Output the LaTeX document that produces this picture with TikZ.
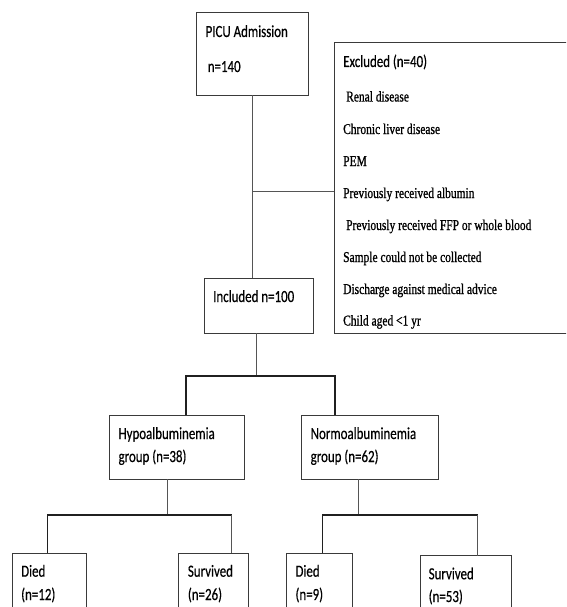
\documentclass[tikz,border=0pt]{standalone}
\usepackage{fontspec}
\newfontfamily\boxfont{Carlito}[FakeStretch=0.76,FakeBold=0.4]
\newfontfamily\listfont{Liberation Serif}[FakeStretch=0.765,FakeBold=0.9]
\definecolor{boxline}{HTML}{3A3A3A}
\definecolor{thinline}{HTML}{555555}
\definecolor{barline}{HTML}{202020}
\definecolor{txt}{HTML}{000000}
\tikzset{
  flowbox/.style={draw=boxline, line width=0.9pt, inner sep=0pt, outer sep=0pt, anchor=north west},
  boxtext/.style={anchor=base west, inner sep=0pt, text=txt, font=\boxfont\fontsize{17}{20}\selectfont},
  listtext/.style={anchor=base west, inner sep=0pt, text=txt, font=\listfont\fontsize{15}{17}\selectfont},
  thinlink/.style={draw=thinline, line width=0.8pt},
  barlink/.style={draw=barline, line width=1.7pt},
  midlink/.style={draw=barline, line width=1.2pt},
}
\begin{document}
\begin{tikzpicture}[x=1pt,y=-1pt]
\useasboundingbox (0,0) rectangle (566,607);
\clip (0,0) rectangle (566,607);
\fill[white] (0,0) rectangle (566,607);

% boxes
\node[flowbox, minimum width=112.3pt, minimum height=82.6pt] (picu) at (196.4,12.7) {};
\node[flowbox, minimum width=250pt, minimum height=290.3pt] (excl) at (334,42.7) {};
\node[flowbox, minimum width=108.7pt, minimum height=55pt] (incl) at (204.7,278) {};
\node[flowbox, minimum width=135.4pt, minimum height=64pt] (hypo) at (109.4,415.3) {};
\node[flowbox, minimum width=137.2pt, minimum height=64pt] (normo) at (301.4,415.3) {};
\node[flowbox, minimum width=74.3pt, minimum height=80pt] (d1) at (12.3,553.3) {};
\node[flowbox, minimum width=69.7pt, minimum height=80pt] (s1) at (178.7,553.3) {};
\node[flowbox, minimum width=66pt, minimum height=80pt] (d2) at (286.3,553.3) {};
\node[flowbox, minimum width=90.6pt, minimum height=80pt] (s2) at (420.6,555.7) {};

% box texts
\node[boxtext] (tpicu1) at (205.4,37) {PICU Admission};
\node[boxtext] (tpicu2) at (207.6,72) {n=140};
\node[boxtext] (tincl) at (213,302) {Included n=100};
\node[boxtext] (thypo1) at (118.4,439) {Hypoalbuminemia};
\node[boxtext] (thypo2) at (118.4,462) {group (n=38)};
\node[boxtext] (tnormo1) at (310.5,439) {Normoalbuminemia};
\node[boxtext] (tnormo2) at (310.5,462) {group (n=62)};
\node[boxtext] (td11) at (21,576.7) {Died};
\node[boxtext] (td12) at (21,600) {(n=12)};
\node[boxtext] (ts11) at (187.7,576.7) {Survived};
\node[boxtext] (ts12) at (187.7,600) {(n=26)};
\node[boxtext] (td21) at (295.3,576.7) {Died};
\node[boxtext] (td22) at (295.3,600) {(n=9)};
\node[boxtext] (ts21) at (428.5,579.3) {Survived};
\node[boxtext] (ts22) at (428.5,602) {(n=53)};

% excluded list
\node[boxtext] (tex0) at (343,67) {Excluded (n=40)};
\node[listtext] (tex1) at (346,101.5) {Renal disease};
\node[listtext] (tex2) at (343,134) {Chronic liver disease};
\node[listtext] (tex3) at (343,166) {PEM};
\node[listtext] (tex4) at (343,198) {Previously received albumin};
\node[listtext] (tex5) at (346,230) {Previously received FFP or whole blood};
\node[listtext] (tex6) at (343,262) {Sample could not be collected};
\node[listtext] (tex7) at (343,294) {Discharge against medical advice};
\node[listtext] (tex8) at (343,325.5) {Child aged <1 yr};

% junction coordinates
\coordinate (j1) at (252,191);
\coordinate (j2) at (256.3,376);
\coordinate (j2l) at (186.3,376);
\coordinate (j2r) at (334.7,376);
\coordinate (j3) at (167,515);
\coordinate (j3l) at (47.3,515);
\coordinate (j3r) at (231.8,515);
\coordinate (j4) at (358,515);
\coordinate (j4l) at (322.4,515);
\coordinate (j4r) at (477.6,515);

% connectors
\draw[thinlink] (picu.south -| j1) -- (incl.north -| j1);
\draw[thinlink] (j1) -- (excl.west |- j1);
\draw[thinlink] (incl.south -| j2) -- (j2);
\draw[barlink] (hypo.north -| j2l) -- (j2l) -- (j2r) -- (normo.north -| j2r);
\draw[thinlink] (hypo.south -| j3) -- (j3);
\draw[barlink] (j3l) -- (j3r);
\draw[midlink] (j3l) -- (d1.north -| j3l);
\draw[thinlink] (j3r) -- (s1.north -| j3r);
\draw[thinlink] (normo.south -| j4) -- (j4);
\draw[barlink] (j4l) -- (j4r);
\draw[barlink] (j4l) -- (d2.north -| j4l);
\draw[thinlink] (j4r) -- (s2.north -| j4r);
\end{tikzpicture}
\end{document}
